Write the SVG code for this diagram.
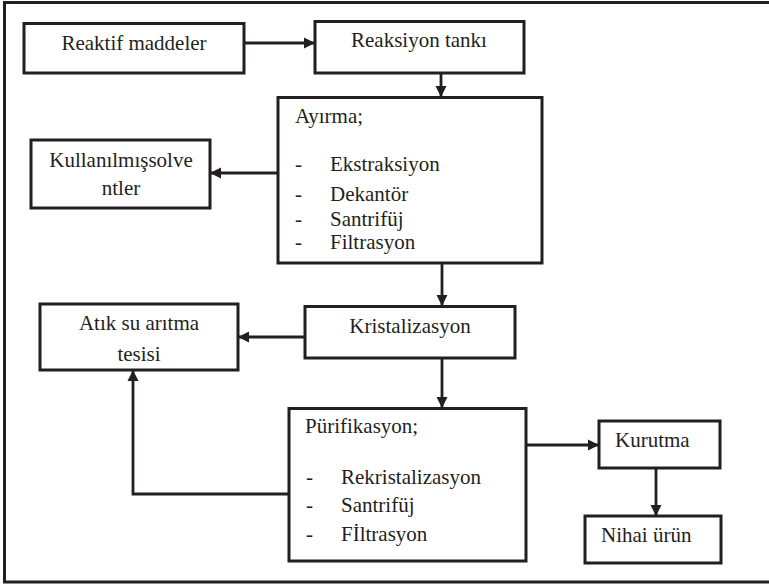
<svg xmlns="http://www.w3.org/2000/svg" width="769" height="585" viewBox="0 0 769 585">
<defs>
<style>
.box{fill:#fff;stroke:#231f20;stroke-width:3}
.t{font-family:'Liberation Serif','Times New Roman','DejaVu Serif',serif;font-size:21px;fill:#231f20}
.c{text-anchor:middle}
.ln{fill:none;stroke:#231f20;stroke-width:2.8}
</style>
<marker id="ah" markerUnits="userSpaceOnUse" markerWidth="12" markerHeight="12" refX="11" refY="6" orient="auto">
<path d="M0,0.5 L11,6 L0,11.5 Z" fill="#231f20"/>
</marker>
</defs>
<rect width="769" height="585" fill="#fff"/>
<path d="M770,2.5 H4.5 V582 H770" fill="none" stroke="#231f20" stroke-width="3"/>
<g id="connectors">
<line class="ln" x1="244" y1="43" x2="315" y2="43" marker-end="url(#ah)"/>
<line class="ln" x1="441" y1="73" x2="441" y2="97" marker-end="url(#ah)"/>
<line class="ln" x1="278" y1="173" x2="210" y2="173" marker-end="url(#ah)"/>
<line class="ln" x1="442" y1="263" x2="442" y2="306" marker-end="url(#ah)"/>
<line class="ln" x1="305" y1="337" x2="238" y2="337" marker-end="url(#ah)"/>
<line class="ln" x1="442" y1="358" x2="442" y2="408" marker-end="url(#ah)"/>
<polyline class="ln" points="289,494 133,494 133,370" marker-end="url(#ah)"/>
<line class="ln" x1="526" y1="445" x2="599" y2="445" marker-end="url(#ah)"/>
<line class="ln" x1="656" y1="468" x2="656" y2="516" marker-end="url(#ah)"/>
</g>
<g id="reaktif">
<rect class="box" x="24" y="23.5" width="220" height="49.5"/>
<text class="t c" x="134" y="50">Reaktif maddeler</text>
</g>
<g id="reaksiyon">
<rect class="box" x="315" y="21.5" width="209" height="51.5"/>
<text class="t c" x="419" y="47">Reaksiyon tankı</text>
</g>
<g id="ayirma">
<rect class="box" x="278" y="97.5" width="264" height="165.5"/>
<text class="t" x="295" y="123">Ayırma;</text>
<text class="t" x="295" y="171">-</text><text class="t" x="330" y="171">Ekstraksiyon</text>
<text class="t" x="295" y="201">-</text><text class="t" x="330" y="201">Dekantör</text>
<text class="t" x="295" y="226">-</text><text class="t" x="330" y="226">Santrifüj</text>
<text class="t" x="295" y="249">-</text><text class="t" x="330" y="249">Filtrasyon</text>
</g>
<g id="kullanilmis">
<rect class="box" x="31" y="140" width="179" height="68"/>
<text class="t c" x="121" y="167">Kullanılmışsolve</text>
<text class="t c" x="121" y="195">ntler</text>
</g>
<g id="kristalizasyon">
<rect class="box" x="305" y="306.5" width="210" height="51.5"/>
<text class="t c" x="410" y="333">Kristalizasyon</text>
</g>
<g id="atik">
<rect class="box" x="40" y="304" width="198" height="66"/>
<text class="t c" x="139" y="330">Atık su arıtma</text>
<text class="t c" x="139" y="361">tesisi</text>
</g>
<g id="purifikasyon">
<rect class="box" x="289" y="408.5" width="237" height="152.5"/>
<text class="t" x="305" y="433">Pürifikasyon;</text>
<text class="t" x="306" y="484">-</text><text class="t" x="341" y="484">Rekristalizasyon</text>
<text class="t" x="306" y="512">-</text><text class="t" x="341" y="512">Santrifüj</text>
<text class="t" x="306" y="541">-</text><text class="t" x="341" y="541">Fİltrasyon</text>
</g>
<g id="kurutma">
<rect class="box" x="599" y="421" width="121" height="47"/>
<text class="t" x="615" y="447">Kurutma</text>
</g>
<g id="nihai">
<rect class="box" x="585" y="516" width="136" height="47"/>
<text class="t" x="601" y="542">Nihai ürün</text>
</g>
</svg>
